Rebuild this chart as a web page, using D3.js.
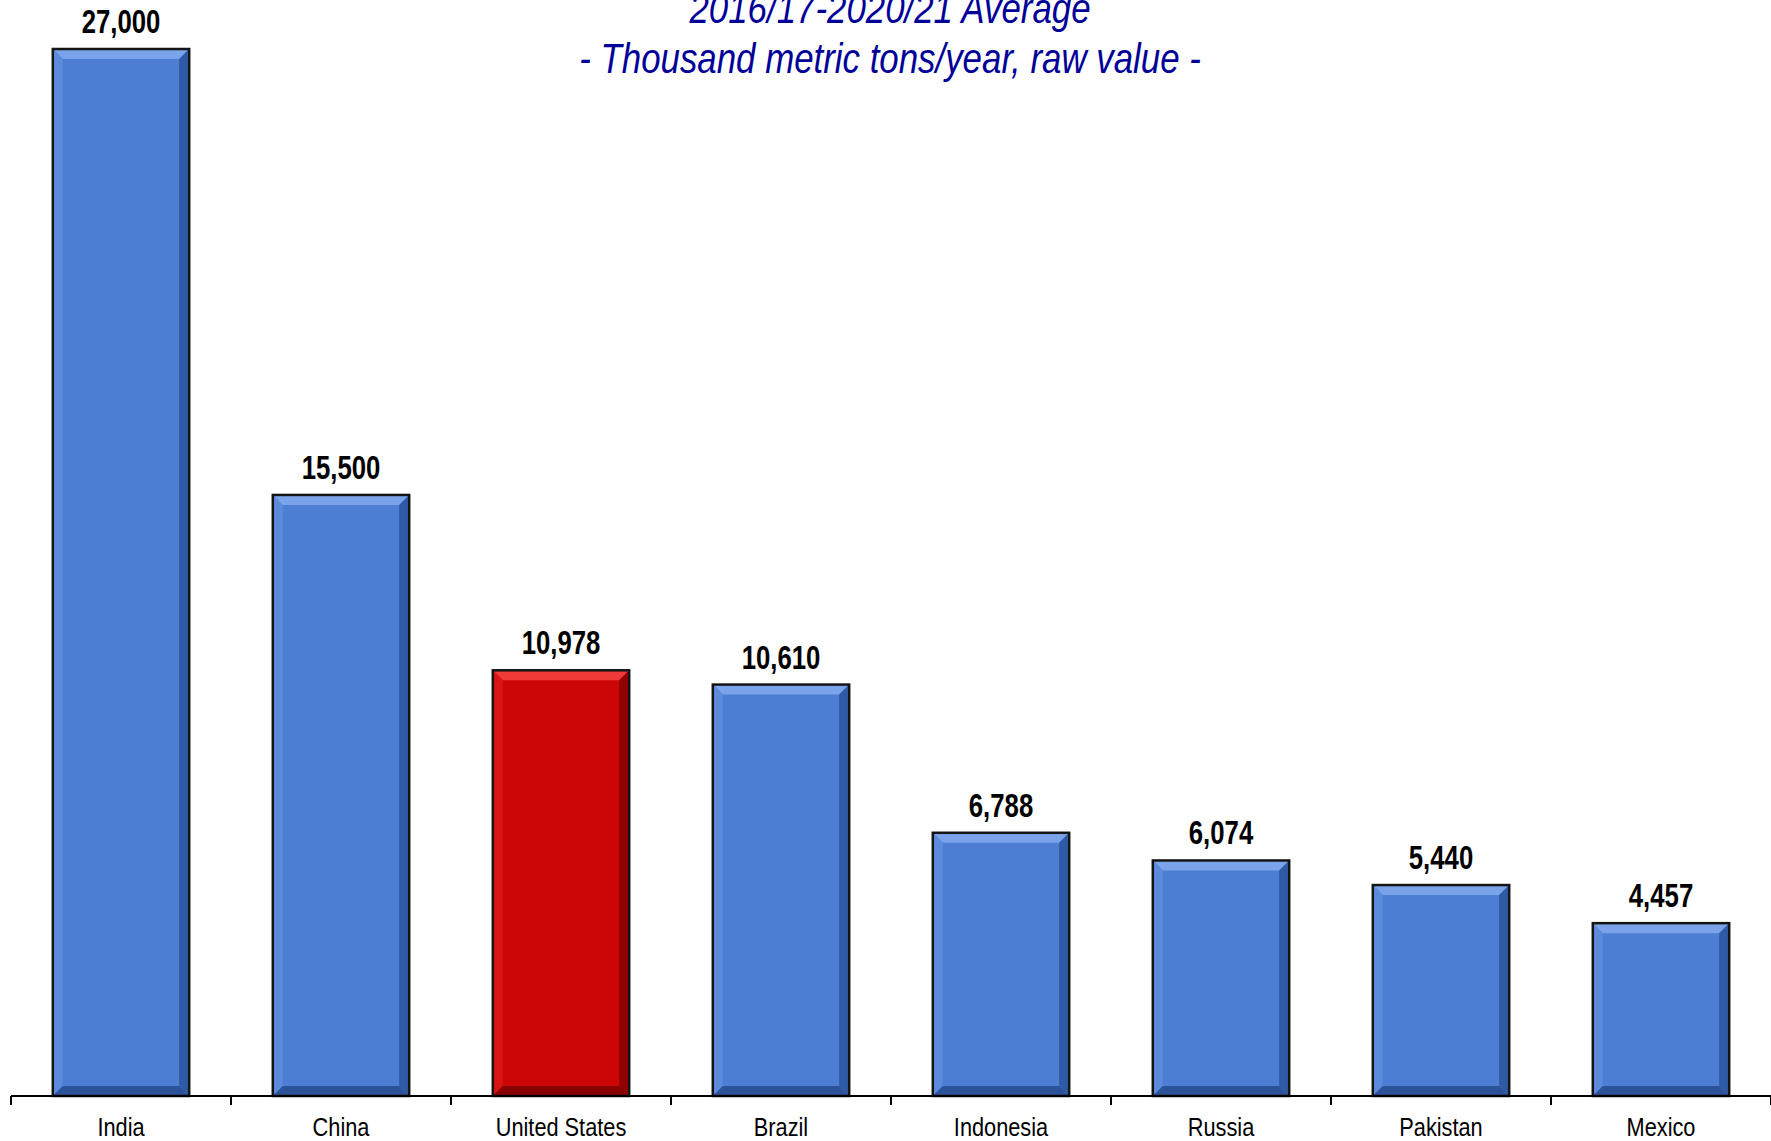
<!DOCTYPE html>
<html>
<head>
<meta charset="utf-8">
<script src="https://cdn.jsdelivr.net/npm/d3@7"></script>
<style>
  body { margin: 0; background: #fff; }
  text { font-family: "Liberation Sans Narrow", "Arial Narrow", "Liberation Sans", sans-serif; }
</style>
</head>
<body>
<div id="chart"></div>
<script>
// chart data
var countries = ["India", "China", "United States", "Brazil", "Indonesia", "Russia", "Pakistan", "Mexico"];
var values = [27000, 15500, 10978, 10610, 6788, 6074, 5440, 4457];
var highlight = "United States";
var titleLines = ["2016/17-2020/21 Average", "- Thousand metric tons/year, raw value -"];

var width = 1771, height = 1141;
// no narrow font installed, so squeeze text sideways
var narrow = 0.78;

var svg = d3.select("#chart")
    .append("svg")
    .attr("width", width)
    .attr("height", height);

// x scale, 220px per category
var x = d3.scaleBand()
    .domain(countries)
    .range([11, 1771])
    .paddingInner(0.38)
    .paddingOuter(0.19);

var y = d3.scaleLinear()
    .domain([0, 27000])
    .range([1096, 49]);

var data = countries.map(function(c, i) { return {name: c, value: values[i]}; });

// title
svg.selectAll(".title")
    .data(titleLines)
    .enter().append("text")
    .attr("class", "title")
    .attr("transform", function(d, i) { return "translate(890," + (23 + i * 50) + ") scale(0.83,1)"; })
    .attr("text-anchor", "middle")
    .attr("font-size", 42)
    .attr("font-style", "italic")
    .attr("fill", "#000099")
    .text(function(d) { return d; });

// colours for the bevel faces
var pal = {
    blue: {base: "#4d7ed3", top: "#7aa3ea", left: "#5a8bdc", right: "#2f5ba6", bottom: "#2c5399"},
    red:  {base: "#cc0606", top: "#f03a3a", left: "#d81414", right: "#8e0202", bottom: "#880000"}
};

var bars = svg.selectAll(".bar")
    .data(data)
    .enter().append("g")
    .attr("class", "bar");

bars.each(function(d) {
    var g = d3.select(this);
    var c = d.name === highlight ? pal.red : pal.blue;
    var x0 = x(d.name), w = x.bandwidth();
    var y0 = y(d.value), h = y(0) - y0;
    var b = 10;

    g.append("rect")
        .attr("x", x0).attr("y", y0)
        .attr("width", w).attr("height", h)
        .attr("fill", c.base);

    var faces = [
        [c.top, [[x0, y0], [x0 + w, y0], [x0 + w - b, y0 + b], [x0 + b, y0 + b]]],
        [c.left, [[x0, y0], [x0 + b, y0 + b], [x0 + b, y0 + h - b], [x0, y0 + h]]],
        [c.right, [[x0 + w, y0], [x0 + w, y0 + h], [x0 + w - b, y0 + h - b], [x0 + w - b, y0 + b]]],
        [c.bottom, [[x0, y0 + h], [x0 + b, y0 + h - b], [x0 + w - b, y0 + h - b], [x0 + w, y0 + h]]]
    ];
    faces.forEach(function(f) {
        g.append("path")
            .attr("d", d3.line()(f[1]) + "Z")
            .attr("fill", f[0]);
    });

    // border
    g.append("rect")
        .attr("x", x0).attr("y", y0)
        .attr("width", w).attr("height", h)
        .attr("fill", "none")
        .attr("stroke", "#141414")
        .attr("stroke-width", 2.5);
});

// value labels
svg.selectAll(".val")
    .data(data)
    .enter().append("text")
    .attr("class", "val")
    .attr("transform", function(d) {
        return "translate(" + (x(d.name) + x.bandwidth() / 2) + "," + (y(d.value) - 16) + ") scale(" + narrow + ",1)";
    })
    .attr("text-anchor", "middle")
    .attr("font-size", 33)
    .attr("font-weight", "bold")
    .attr("fill", "#000")
    .text(function(d) { return d3.format(",")(d.value); });

// x axis with labels
var axis = svg.append("g")
    .attr("transform", "translate(0," + y(0) + ")")
    .call(d3.axisBottom(x).tickSize(0).tickPadding(22));
axis.select(".domain").remove();
axis.selectAll("text")
    .attr("font-size", 25)
    .attr("transform", "scale(0.87,1)")
    .attr("font-family", "'Liberation Sans Narrow', 'Arial Narrow', 'Liberation Sans', sans-serif")
    .attr("fill", "#000");

// axis line and ticks between categories
axis.append("line")
    .attr("x1", 11).attr("x2", 1771)
    .attr("y1", 0).attr("y2", 0)
    .attr("stroke", "#000").attr("stroke-width", 2);

axis.selectAll(".sep")
    .data(d3.range(countries.length + 1))
    .enter().append("line")
    .attr("class", "sep")
    .attr("x1", function(i) { return 11 + i * x.step(); })
    .attr("x2", function(i) { return 11 + i * x.step(); })
    .attr("y1", 0).attr("y2", 9)
    .attr("stroke", "#000").attr("stroke-width", 2);
</script>
</body>
</html>
